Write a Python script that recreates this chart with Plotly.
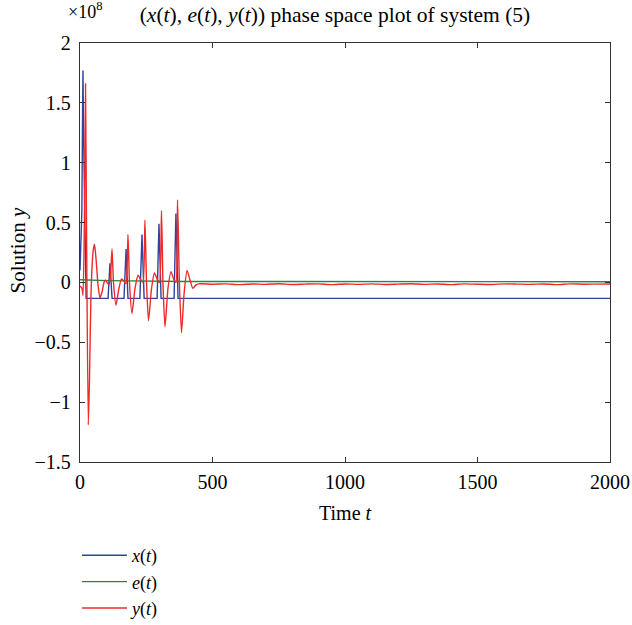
import plotly.graph_objects as go

# Values in units of 1e8
x_t = [0, 7, 10, 11.3, 13, 20, 23, 106, 113, 121, 166, 174, 181, 226, 234, 242,
       291, 298, 306, 355, 362, 370, 2000]
x_v = [0.10, 0.6, 1.5, 1.77, 1.3, -0.05, -0.133, -0.133, 0.16, -0.133, -0.133, 0.28, -0.133,
       -0.133, 0.40, -0.133, -0.133, 0.49, -0.133, -0.133, 0.575, -0.133, -0.133]

e_t = [0, 100, 400, 2000]
e_v = [0.022, 0.015, 0.008, 0.006]

y_t = [0, 7.5, 11.3, 17, 20.8, 24.5, 31.3, 35.9, 41.5, 49, 54.7, 60.4, 68, 75.5, 83,
       90.6, 96, 102, 109.4, 115, 120.8, 126.4, 135.9, 145.3, 156.6, 166, 173.6, 181,
       186.8, 196, 207.6, 219, 230, 237.8, 245, 251, 258.5, 270, 281, 292.5, 300,
       307.6, 313, 320.8, 332, 343.4, 354.8, 362, 368, 375, 383, 392.5, 404, 415,
       426, 438, 449,
       500, 550, 600, 650, 700, 750, 800, 850, 900, 950, 1000, 1050, 1100, 1150,
       1200, 1250, 1300, 1350, 1400, 1450, 1500, 1550, 1600, 1650, 1700, 1750,
       1800, 1850, 1900, 1950, 2000]
y_v = [-0.03, -0.05, -0.11, 0.6, 1.66, 0.5, -1.19, -0.8, -0.1, 0.25, 0.32, 0.2, -0.02,
       -0.13, -0.08, 0.0, 0.02, 0.0, -0.02, 0.05, 0.28, 0.0, -0.19, -0.07, 0.03, 0.01,
       -0.01, 0.40, 0.0, -0.26, -0.05, 0.06, 0.02, 0.0, 0.52, 0.0, -0.32, -0.05, 0.08,
       0.02, 0.0, 0.60, 0.0, -0.37, -0.05, 0.09, 0.02, 0.0, 0.69, 0.0, -0.42, -0.1,
       0.10, 0.02, -0.05, -0.02, -0.012,
       -0.015, -0.012, -0.018, -0.013, -0.016, -0.011, -0.017, -0.014, -0.012, -0.018,
       -0.013, -0.016, -0.012, -0.017, -0.014, -0.011, -0.016, -0.013, -0.018, -0.012,
       -0.015, -0.017, -0.012, -0.014, -0.016, -0.013, -0.018, -0.012, -0.015, -0.014,
       -0.013, -0.016]

y_ticks = [2, 1.5, 1, 0.5, 0, -0.5, -1, -1.5]
y_tick_text = ["2", "1.5", "1", "0.5", "0", "\u22120.5", "\u22121", "\u22121.5"]
x_ticks = [0, 500, 1000, 1500, 2000]

FONT = "Liberation Serif, Times New Roman, serif"

fig = go.Figure()
fig.add_trace(go.Scatter(x=x_t, y=x_v, mode="lines", name="<i>x</i>(<i>t</i>)",
                         line=dict(color="#2c44a0", width=1.4)))
fig.add_trace(go.Scatter(x=e_t, y=e_v, mode="lines", name="<i>e</i>(<i>t</i>)",
                         line=dict(color="#1f8a45", width=1.4)))
fig.add_trace(go.Scatter(x=y_t, y=y_v, mode="lines", name="<i>y</i>(<i>t</i>)",
                         line=dict(color="#f02828", width=1.4, shape="spline", smoothing=0.6)))

fig.update_layout(
    width=632, height=625,
    margin=dict(l=80, r=22, t=43, b=163, autoexpand=False),
    paper_bgcolor="white", plot_bgcolor="white",
    font=dict(family=FONT, size=20, color="black"),
    title=dict(text="(<i>x</i>(<i>t</i>), <i>e</i>(<i>t</i>), <i>y</i>(<i>t</i>)) phase space plot of system (5)",
               x=0.53, xanchor="center", y=0.977, yanchor="middle",
               font=dict(family=FONT, size=21.5)),
    showlegend=True,
    legend=dict(x=-0.0057, xanchor="left", y=-0.179, yanchor="top",
                font=dict(family=FONT, size=18), itemwidth=45,
                bgcolor="rgba(0,0,0,0)", tracegroupgap=0, borderwidth=0),
    xaxis=dict(range=[0, 2000], tickvals=x_ticks, showgrid=False, zeroline=False,
               showline=True, linecolor="#333333", linewidth=1.3, mirror="ticks",
               ticks="inside", ticklen=5, tickcolor="#333333", automargin=False,
               ticklabelstandoff=2),
    yaxis=dict(range=[-1.5, 2], tickvals=y_ticks, ticktext=y_tick_text, showgrid=False,
               zeroline=False, showline=True, linecolor="#333333", linewidth=1.3,
               mirror="ticks", ticks="inside", ticklen=5, tickcolor="#333333",
               automargin=False, ticklabelstandoff=4),
    annotations=[
        dict(text="\u00d710<sup>8</sup>", xref="paper", yref="paper",
             x=0.0094, y=1.0, xanchor="center", yanchor="bottom",
             showarrow=False, font=dict(family=FONT, size=18), yshift=19),
        dict(text="Time <i>t</i>", xref="paper", yref="paper", x=0.5, y=0,
             xanchor="center", yanchor="middle", yshift=-51, showarrow=False,
             font=dict(family=FONT, size=20)),
        dict(text="Solution <i>y</i>", xref="paper", yref="paper", x=0, y=0.5,
             xanchor="center", yanchor="middle", xshift=-63, yshift=2, textangle=-90,
             showarrow=False, font=dict(family=FONT, size=21)),
    ],
)

fig.write_html("out.html", config={"displayModeBar": False},
               post_script="document.body.style.margin='0';")
